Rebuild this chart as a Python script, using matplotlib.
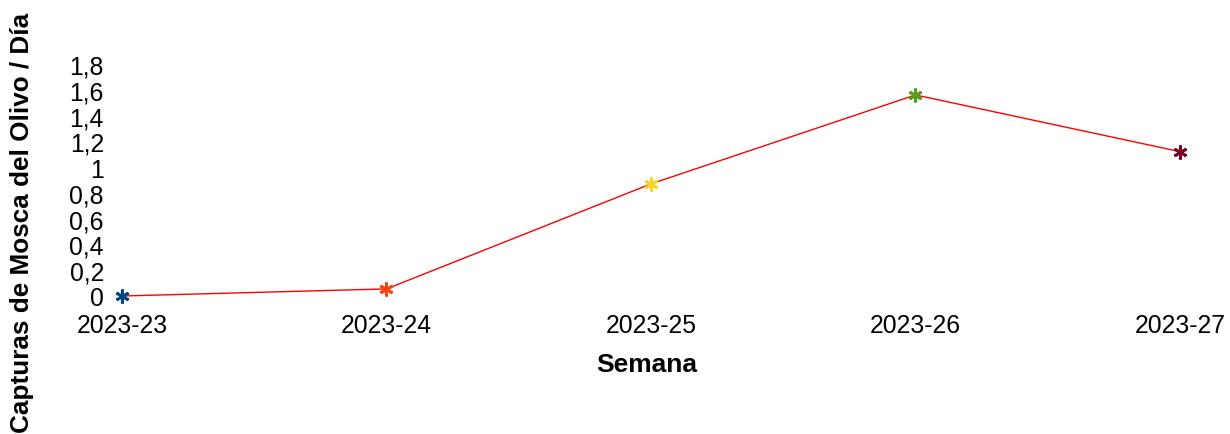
import matplotlib
matplotlib.use("Agg")
import matplotlib.pyplot as plt

weeks = ["2023-23", "2023-24", "2023-25", "2023-26", "2023-27"]
captures = [0.0, 0.055, 0.87, 1.56, 1.12]
marker_colors = ["#004586", "#ff420e", "#ffd320", "#579d1c", "#7e0021"]
yticks = [0, 0.2, 0.4, 0.6, 0.8, 1.0, 1.2, 1.4, 1.6, 1.8]
ytick_labels = ["0", "0,2", "0,4", "0,6", "0,8", "1", "1,2", "1,4", "1,6", "1,8"]

plt.rcParams['font.family'] = ['Liberation Sans', 'DejaVu Sans']

fig = plt.figure(figsize=(12.3, 4.35), dpi=100)
ax = fig.add_axes([122/1230, 138/435, (1180-122)/1230, (297-65)/435])

x = list(range(len(weeks)))
ax.plot(x, captures, color="#ff0000", lw=1, zorder=2, clip_on=False)
for xi, yi, c in zip(x, captures, marker_colors):
    ax.plot([xi], [yi], marker=(6, 2, 0), color=c, markersize=10, mew=2,
            linestyle="none", zorder=3, clip_on=False)

ax.set_xlim(0, len(weeks) - 1)
ax.set_ylim(0, 1.8)
ax.set_xticks(x)
ax.set_xticklabels(weeks, fontsize=17.8)
ax.set_yticks(yticks)
ax.set_yticklabels(ytick_labels, fontsize=17.8)
ax.tick_params(axis='both', length=0)
ax.tick_params(axis='y', pad=13)
ax.tick_params(axis='x', pad=12)
for s in ax.spines.values():
    s.set_visible(False)

fig.text(647/1230, 1 - 365/435, "Semana", fontsize=19, fontweight="bold",
         ha="center", va="center")
fig.text(22/1230, 1 - 223/435, "Capturas de Mosca del Olivo / Día", fontsize=18.8,
         fontweight="bold", rotation=90, ha="center", va="center")

fig.savefig("out.png", dpi=100)
